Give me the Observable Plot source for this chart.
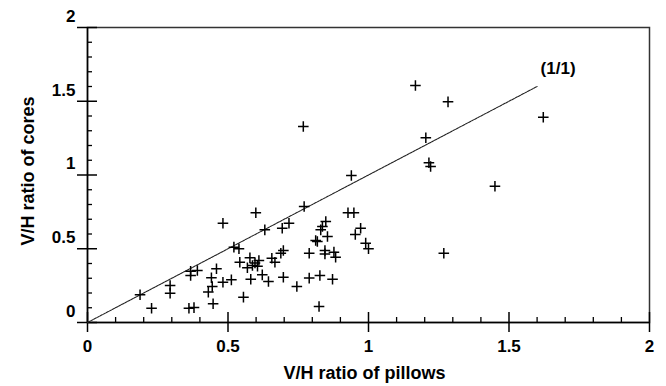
<!DOCTYPE html>
<html>
<head>
<meta charset="utf-8">
<script src="https://cdn.jsdelivr.net/npm/d3@7"></script>
<script src="https://cdn.jsdelivr.net/npm/@observablehq/plot@0.6"></script>
<style>
  body { margin: 0; background: #fff; }
  #chart svg { display: block; }
</style>
</head>
<body>
<div id="chart"></div>
<script>
// V/H ratio measured on pillows (x) against the same ratio on cores (y)
const pillowRatio = [
  0.187, 0.228, 0.294, 0.294, 0.361, 0.379, 0.367, 0.367, 0.391, 0.430,
  0.441, 0.444, 0.447, 0.459, 0.482, 0.482, 0.512, 0.521, 0.539, 0.555,
  0.542, 0.569, 0.578, 0.581, 0.587, 0.596, 0.605, 0.610, 0.599, 0.622,
  0.631, 0.644, 0.656, 0.667, 0.688, 0.697, 0.693, 0.717, 0.697, 0.745,
  0.771, 0.768, 0.789, 0.789, 0.812, 0.818, 0.824, 0.827, 0.830, 0.836,
  0.848, 0.854, 0.845, 0.845, 0.872, 0.877, 0.883, 0.927, 0.948, 0.939,
  0.953, 0.972, 0.990, 1.000, 1.167, 1.283, 1.622, 1.204, 1.215, 1.221,
  1.268, 1.450
];
const coreRatio = [
  0.188, 0.097, 0.251, 0.199, 0.097, 0.101, 0.348, 0.319, 0.352, 0.206,
  0.303, 0.244, 0.127, 0.364, 0.273, 0.673, 0.289, 0.511, 0.500, 0.172,
  0.409, 0.371, 0.439, 0.293, 0.386, 0.404, 0.381, 0.420, 0.744, 0.323,
  0.628, 0.278, 0.436, 0.409, 0.470, 0.488, 0.639, 0.673, 0.307, 0.244,
  0.786, 1.329, 0.470, 0.301, 0.556, 0.549, 0.108, 0.319, 0.628, 0.651,
  0.685, 0.583, 0.488, 0.465, 0.293, 0.477, 0.443, 0.744, 0.744, 0.997,
  0.597, 0.639, 0.538, 0.500, 1.607, 1.496, 1.392, 1.252, 1.083, 1.058,
  0.470, 0.924
];

// 1:1 reference line end points
const refLine = [0, 1.6];
const refLabel = "(1/1)";

// Axis ticks
const majorTicks = [0, 0.5, 1, 1.5, 2];
const minorTicks = [0.1, 0.2, 0.3, 0.4, 0.6, 0.7, 0.8, 0.9, 1.1, 1.2, 1.3, 1.4, 1.6, 1.7, 1.8, 1.9];

const xTitle = "V/H ratio of pillows";
const yTitle = "V/H ratio of cores";

const points = pillowRatio.map((x, i) => ({x, y: coreRatio[i]}));
const line = refLine.map(v => ({x: v, y: v}));
const fmt = d => String(d);
const font = "'Liberation Sans', Arial, Helvetica, sans-serif";

// frame geometry
const W = 666, H = 386, mL = 87, mR = 17, mT = 27, mB = 64;
const frameW = W - mL - mR, frameH = H - mT - mB;

const chart = Plot.plot({
  width: W,
  height: H,
  marginLeft: mL,
  marginRight: mR,
  marginTop: mT,
  marginBottom: mB,
  style: {fontFamily: font, fontWeight: "bold", fontSize: "17px", background: "#fff", color: "#000"},
  x: {domain: [0, 2]},
  y: {domain: [0, 2]},
  marks: [
    Plot.frame({stroke: "#333", strokeWidth: 1.5}),
    Plot.ruleY([0], {stroke: "#000", strokeWidth: 1.5}),
    Plot.ruleX([0], {stroke: "#000", strokeWidth: 1.5}),
    // major ticks: outward part from the axes, inward part as short ticks
    Plot.axisX(majorTicks, {tickSize: 10, strokeWidth: 1.5, text: null, label: null}),
    Plot.axisY(majorTicks, {tickSize: 10, strokeWidth: 1.5, text: null, label: null}),
    Plot.tickX(majorTicks, {x: d => d, insetTop: frameH - 10, stroke: "#000", strokeWidth: 1.5}),
    Plot.tickY(majorTicks, {y: d => d, insetRight: frameW - 10, stroke: "#000", strokeWidth: 1.5}),
    // minor ticks pointing inward
    Plot.tickX(minorTicks, {x: d => d, insetTop: frameH - 5, stroke: "#000", strokeWidth: 1.3}),
    Plot.tickY(minorTicks, {y: d => d, insetRight: frameW - 5, stroke: "#000", strokeWidth: 1.3}),
    // tick labels
    Plot.axisX(majorTicks, {tickSize: 0, tickPadding: 17, tickFormat: fmt, fontSize: 17, fontWeight: "bold", label: null}),
    Plot.axisY(majorTicks, {tickSize: 0, tickPadding: 12, dy: -11, tickFormat: fmt, fontSize: 17, fontWeight: "bold", label: null}),
    // axis titles
    Plot.text([xTitle], {frameAnchor: "bottom", textAnchor: "middle", dy: 56, dx: -4, fontSize: 18, fontWeight: "bold", fill: "#000"}),
    Plot.text([yTitle], {frameAnchor: "left", textAnchor: "middle", dx: -59, dy: -4, rotate: -90, fontSize: 18, fontWeight: "bold", fill: "#000"}),
    // 1:1 line and its label
    Plot.line(line, {x: "x", y: "y", stroke: "#222", strokeWidth: 1.1, strokeDasharray: "2.5,1"}),
    Plot.text([line[line.length - 1]], {x: "x", y: "y", text: () => refLabel, dx: 21, dy: -18, fontSize: 17, fontWeight: "bold", fill: "#000"}),
    // data points
    Plot.dot(points, {x: "x", y: "y", symbol: "plus", r: 3.5, stroke: "#000", strokeWidth: 1.5})
  ]
});

document.getElementById("chart").appendChild(chart);
</script>
</body>
</html>
